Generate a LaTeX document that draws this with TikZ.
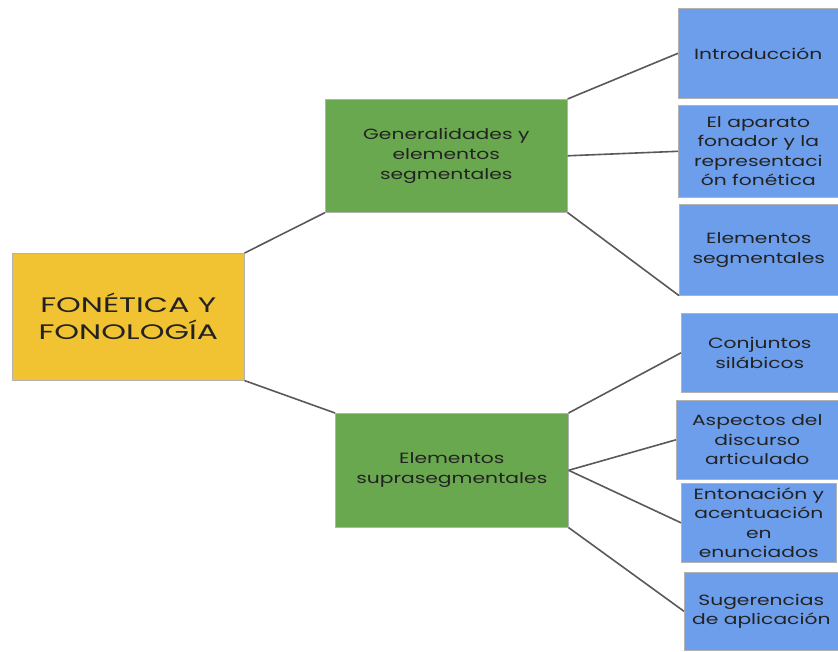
\documentclass[tikz,border=0pt]{standalone}
\usepackage{fontspec}
\setmainfont{Poppins}
\newfontfamily\rootfnt[FakeStretch=1.5]{Poppins}
\newfontfamily\boxfnt[FakeStretch=1.37]{Poppins}
\definecolor{rootc}{HTML}{F1C232}
\definecolor{greenc}{HTML}{6AA84F}
\definecolor{bluec}{HTML}{6D9EEB}
\definecolor{linec}{HTML}{595959}
\definecolor{txtc}{HTML}{222222}
\tikzset{
  box/.style={anchor=north west, draw=black!30, line width=0.6pt, inner sep=0pt, align=center, text=txtc},
  rootbox/.style={box, fill=rootc, font=\rootfnt\fontsize{21}{27}\selectfont},
  midbox/.style={box, fill=greenc, font=\boxfnt\fontsize{14.8}{20}\selectfont},
  leafbox/.style={box, fill=bluec, font=\boxfnt\fontsize{14.8}{19.5}\selectfont},
  conn/.style={draw=linec, line width=1.6pt}
}
\newcommand{\bx}[7]{\node[#1, minimum width=#5-#3, minimum height=#6-#4] (#2) at (#3,#4) {#7};}
\begin{document}
\begin{tikzpicture}[x=1pt,y=-1pt]
\useasboundingbox (0,0) rectangle (838,652);
\bx{rootbox}{root}{12}{253}{244}{380}{FONÉTICA Y\\FONOLOGÍA}
\bx{midbox}{gen}{325}{99}{567}{212}{Generalidades y\\elementos\\segmentales}
\bx{midbox}{sup}{335}{413}{568}{527}{Elementos\\suprasegmentales}
\bx{leafbox}{intro}{678}{8}{838}{98}{Introducción}
\bx{leafbox}{apar}{678}{105}{838}{197}{El aparato\\fonador y la\\representaci\\ón fonética}
\bx{leafbox}{seg}{679}{204}{838}{295}{Elementos\\segmentales}
\bx{leafbox}{conj}{681}{313}{838}{392}{Conjuntos\\silábicos}
\bx{leafbox}{asp}{676}{400}{838}{479}{Aspectos del\\discurso\\articulado}
\bx{leafbox}{ento}{681}{483}{836}{562}{Entonación y\\acentuación\\en\\enunciados}
\bx{leafbox}{sug}{684}{572}{838}{650}{Sugerencias\\de aplicación}
\draw[conn] (root.north east) -- (gen.south west);
\draw[conn] (root.south east) -- (sup.north west);
\draw[conn] (gen.north east) -- (intro.west);
\draw[conn] (gen.east) -- (apar.west);
\draw[conn] (gen.south east) -- (seg.south west);
\draw[conn] (sup.north east) -- (conj.west);
\draw[conn] (sup.east) -- (asp.west);
\draw[conn] (sup.east) -- (ento.west);
\draw[conn] (sup.south east) -- (sug.west);
\end{tikzpicture}
\end{document}
